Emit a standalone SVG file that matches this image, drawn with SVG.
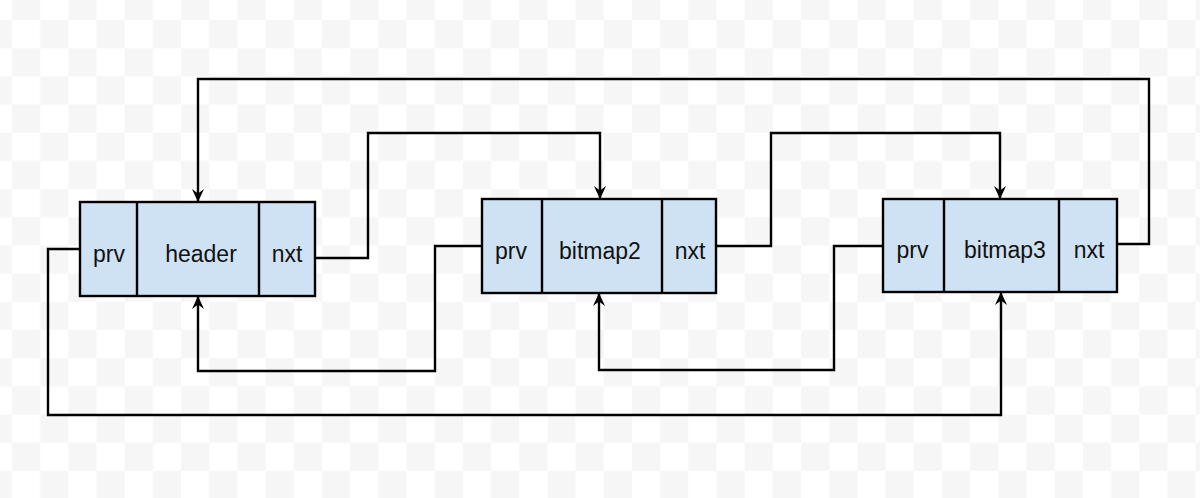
<svg xmlns="http://www.w3.org/2000/svg" width="1200" height="498" viewBox="0 0 1200 498">
<style>
.cell{fill:#cfe2f3;stroke:#000;stroke-width:2.4}
.div{stroke:#000;stroke-width:2.4}
.lbl{font-family:"Liberation Sans",Arial,sans-serif;font-size:23px;fill:#111;text-anchor:middle}
.conn{fill:none;stroke:#000;stroke-width:2.4;marker-end:url(#arr)}
</style>
<defs>
<pattern id="chk" patternUnits="userSpaceOnUse" x="12" y="20" width="56.36" height="56.36">
<rect x="0" y="0" width="56.36" height="56.36" fill="#ffffff"/>
<rect x="28.18" y="0" width="28.18" height="28.18" fill="#f6f6f6"/>
<rect x="0" y="28.18" width="28.18" height="28.18" fill="#f6f6f6"/>
</pattern>
<marker id="arr" markerUnits="userSpaceOnUse" markerWidth="16" markerHeight="14" viewBox="-14 -7 15 14" refX="0" refY="0" orient="auto">
<path d="M0,0 L-13,-6 L-8.5,0 L-13,6 Z" fill="#000"/>
</marker>
</defs>
<rect width="1200" height="498" fill="url(#chk)"/>
<g id="connectors">
<path class="conn" d="M315,258 H368 V133 H600 V199"/>
<path class="conn" d="M482,246 H435 V371 H198 V296"/>
<path class="conn" d="M716,246 H771 V133 H1000 V199"/>
<path class="conn" d="M883,246 H834 V370 H599 V293"/>
<path class="conn" d="M1117,244 H1149 V79 H198 V202"/>
<path class="conn" d="M80,249 H48 V415 H1001 V292"/>
</g>
<g id="header">
<rect class="cell" x="80" y="202" width="235" height="94"/>
<line class="div" x1="137" y1="202" x2="137" y2="296"/>
<line class="div" x1="259" y1="202" x2="259" y2="296"/>
<text class="lbl" x="109" y="262">prv</text>
<text class="lbl" x="201" y="262">header</text>
<text class="lbl" x="287" y="262">nxt</text>
</g>
<g id="bitmap2">
<rect class="cell" x="482" y="199" width="234" height="94"/>
<line class="div" x1="542" y1="199" x2="542" y2="293"/>
<line class="div" x1="662" y1="199" x2="662" y2="293"/>
<text class="lbl" x="511" y="259">prv</text>
<text class="lbl" x="600" y="259">bitmap2</text>
<text class="lbl" x="690" y="259">nxt</text>
</g>
<g id="bitmap3">
<rect class="cell" x="883" y="199" width="234" height="93"/>
<line class="div" x1="944" y1="199" x2="944" y2="292"/>
<line class="div" x1="1059" y1="199" x2="1059" y2="292"/>
<text class="lbl" x="912.5" y="258">prv</text>
<text class="lbl" x="1005" y="258">bitmap3</text>
<text class="lbl" x="1089" y="258">nxt</text>
</g>
</svg>
